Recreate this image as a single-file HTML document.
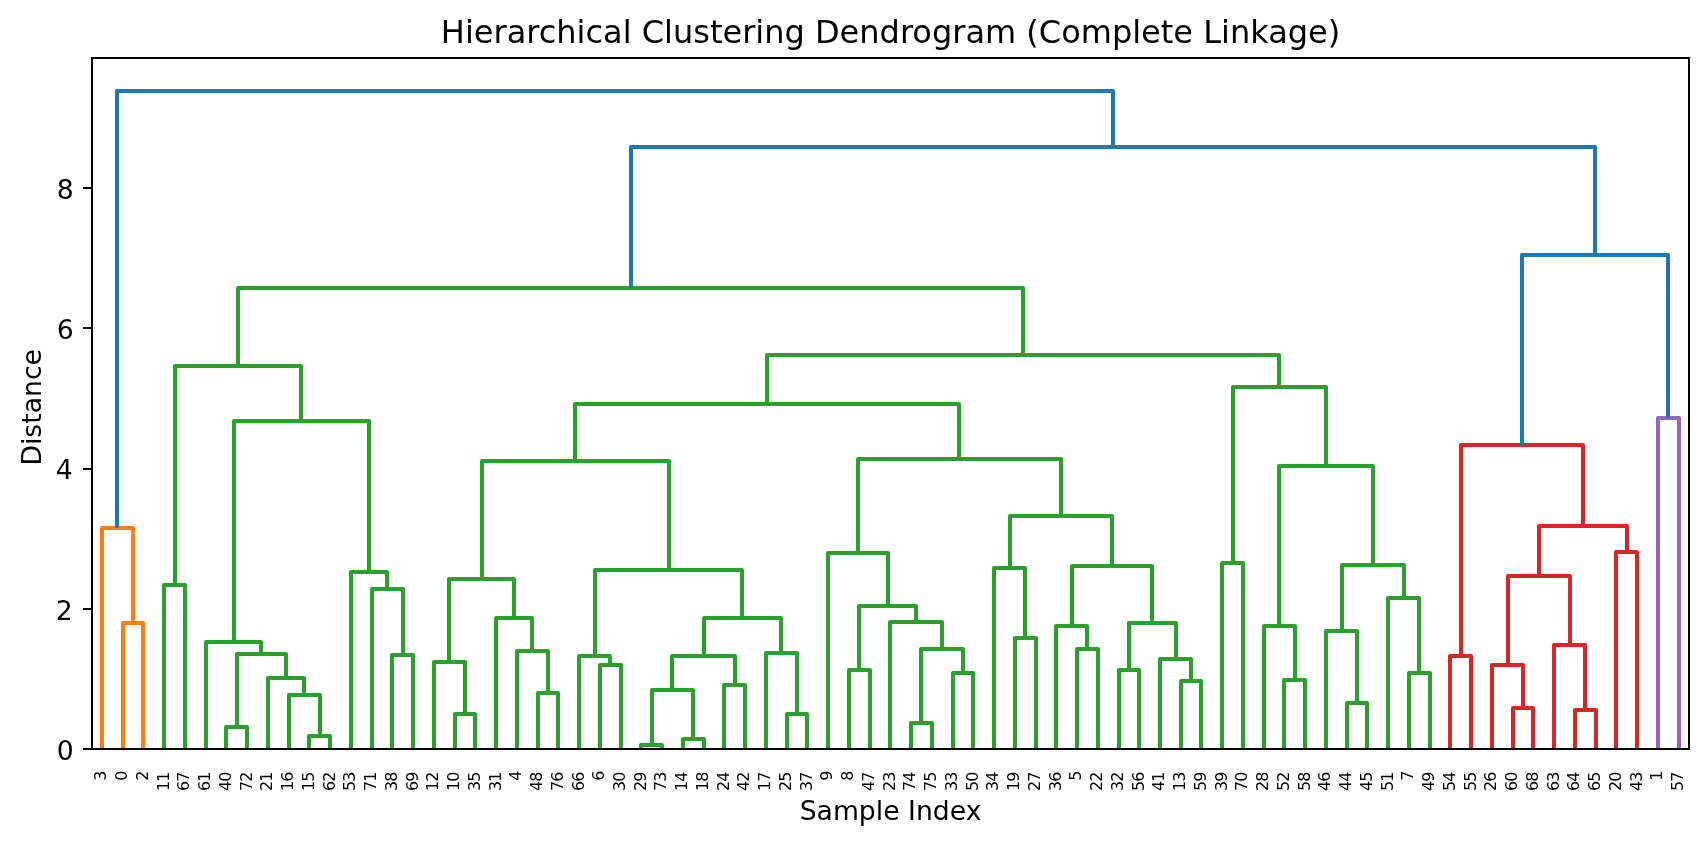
<!DOCTYPE html>
<html><head><meta charset="utf-8"><title>Hierarchical Clustering Dendrogram</title>
<style>
html,body{margin:0;padding:0;background:#fff;}
body{width:1708px;height:844px;overflow:hidden;}
svg{display:block;will-change:transform;}
text{font-family:"DejaVu Sans","Liberation Sans",sans-serif;fill:#000;}
</style></head><body>
<svg width="1708" height="844" viewBox="0 0 1708 844">
<rect x="0" y="0" width="1708" height="844" fill="#fff"/>
<defs><clipPath id="ax"><rect x="92" y="58" width="1597" height="691"/></clipPath></defs>
<g clip-path="url(#ax)" fill="none" stroke-width="4" stroke-linejoin="round" stroke-linecap="butt">
<path stroke="#ff7f0e" d="M123 749V623H143V749 M102 749V528H133V623"/>
<path stroke="#2ca02c" d="M164 749V585H185V749 M226 749V727H247V749 M309 749V736H330V749 M289 749V695H320V736 M268 749V678H304V695 M237 727V654H286V678 M206 749V642H261V654 M392 749V655H413V749 M372 749V589H403V655 M351 749V572H387V589 M234 642V421H369V572 M175 585V366H301V421 M455 749V714H475V749 M434 749V662H465V714 M538 749V693H558V749 M517 749V651H548V693 M496 749V618H532V651 M449 662V579H514V618 M600 749V665H621V749 M579 749V656H610V665 M641 749V745H662V749 M683 749V739H704V749 M652 745V690H693V739 M724 749V685H745V749 M672 690V656H735V685 M787 749V714H807V749 M766 749V653H797V714 M704 656V618H781V653 M595 656V570H742V618 M482 579V461H669V570 M849 749V670H870V749 M911 749V723H932V749 M953 749V673H973V749 M921 723V649H963V673 M890 749V622H942V649 M859 670V606H916V622 M828 749V553H888V606 M1015 749V638H1036V749 M994 749V568H1025V638 M1077 749V649H1098V749 M1056 749V626H1087V649 M1119 749V670H1139V749 M1181 749V681H1201V749 M1160 749V659H1191V681 M1129 670V623H1176V659 M1072 626V566H1152V623 M1010 568V516H1112V566 M858 553V459H1061V516 M575 461V404H959V459 M1222 749V563H1243V749 M1284 749V680H1305V749 M1264 749V626H1295V680 M1347 749V703H1367V749 M1326 749V631H1357V703 M1409 749V673H1430V749 M1388 749V598H1419V673 M1342 631V565H1404V598 M1279 626V466H1373V565 M1233 563V387H1326V466 M767 404V355H1279V387 M238 366V288H1023V355"/>
<path stroke="#d62728" d="M1450 749V656H1471V749 M1513 749V708H1533V749 M1492 749V665H1523V708 M1575 749V710H1596V749 M1554 749V645H1585V710 M1508 665V576H1570V645 M1616 749V552H1637V749 M1539 576V526H1627V552 M1461 656V445H1583V526"/>
<path stroke="#9467bd" d="M1658 749V418H1679V749"/>
<path stroke="#1f77b4" d="M1522 445V255H1668V418 M631 288V147H1595V255 M117 528V91H1113V147"/>
</g>
<rect x="92" y="58" width="1597" height="691" fill="none" stroke="#000" stroke-width="2" stroke-linejoin="miter"/>
<g stroke="#000" stroke-width="2">
<line x1="83" y1="749" x2="92" y2="749"/>
<line x1="83" y1="609" x2="92" y2="609"/>
<line x1="83" y1="469" x2="92" y2="469"/>
<line x1="83" y1="328" x2="92" y2="328"/>
<line x1="83" y1="188" x2="92" y2="188"/>
</g>
<g font-size="26.67px" text-anchor="end">
<text x="73.6" y="759.53">0</text>
<text x="72.7" y="619.53">2</text>
<text x="72.8" y="478.53">4</text>
<text x="73.6" y="338.53">6</text>
<text x="73.6" y="198.53">8</text>
</g>
<g font-size="16px" text-anchor="end" letter-spacing="-0.95px">
<text transform="translate(106.33 771.4) rotate(-90)">3</text>
<text transform="translate(127.08 771.4) rotate(-90)">0</text>
<text transform="translate(147.82 771.4) rotate(-90)">2</text>
<text transform="translate(168.57 772.5) rotate(-90)">11</text>
<text transform="translate(189.32 772.5) rotate(-90)">67</text>
<text transform="translate(210.06 772.5) rotate(-90)">61</text>
<text transform="translate(230.81 772.5) rotate(-90)">40</text>
<text transform="translate(251.55 772.5) rotate(-90)">72</text>
<text transform="translate(272.3 772.5) rotate(-90)">21</text>
<text transform="translate(293.05 772.5) rotate(-90)">16</text>
<text transform="translate(313.79 772.5) rotate(-90)">15</text>
<text transform="translate(334.54 772.5) rotate(-90)">62</text>
<text transform="translate(355.29 772.5) rotate(-90)">53</text>
<text transform="translate(376.03 772.5) rotate(-90)">71</text>
<text transform="translate(396.78 772.5) rotate(-90)">38</text>
<text transform="translate(417.53 772.5) rotate(-90)">69</text>
<text transform="translate(438.27 772.5) rotate(-90)">12</text>
<text transform="translate(459.02 772.5) rotate(-90)">10</text>
<text transform="translate(479.77 772.5) rotate(-90)">35</text>
<text transform="translate(500.51 772.5) rotate(-90)">31</text>
<text transform="translate(521.26 771.4) rotate(-90)">4</text>
<text transform="translate(542.01 772.5) rotate(-90)">48</text>
<text transform="translate(562.75 772.5) rotate(-90)">76</text>
<text transform="translate(583.5 772.5) rotate(-90)">66</text>
<text transform="translate(604.25 771.4) rotate(-90)">6</text>
<text transform="translate(624.99 772.5) rotate(-90)">30</text>
<text transform="translate(645.74 772.5) rotate(-90)">29</text>
<text transform="translate(666.48 772.5) rotate(-90)">73</text>
<text transform="translate(687.23 772.5) rotate(-90)">14</text>
<text transform="translate(707.98 772.5) rotate(-90)">18</text>
<text transform="translate(728.72 772.5) rotate(-90)">24</text>
<text transform="translate(749.47 772.5) rotate(-90)">42</text>
<text transform="translate(770.22 772.5) rotate(-90)">17</text>
<text transform="translate(790.96 772.5) rotate(-90)">25</text>
<text transform="translate(811.71 772.5) rotate(-90)">37</text>
<text transform="translate(832.46 771.4) rotate(-90)">9</text>
<text transform="translate(853.2 771.4) rotate(-90)">8</text>
<text transform="translate(873.95 772.5) rotate(-90)">47</text>
<text transform="translate(894.7 772.5) rotate(-90)">23</text>
<text transform="translate(915.44 772.5) rotate(-90)">74</text>
<text transform="translate(936.19 772.5) rotate(-90)">75</text>
<text transform="translate(956.94 772.5) rotate(-90)">33</text>
<text transform="translate(977.68 772.5) rotate(-90)">50</text>
<text transform="translate(998.43 772.5) rotate(-90)">34</text>
<text transform="translate(1019.18 772.5) rotate(-90)">19</text>
<text transform="translate(1039.92 772.5) rotate(-90)">27</text>
<text transform="translate(1060.67 772.5) rotate(-90)">36</text>
<text transform="translate(1081.41 771.4) rotate(-90)">5</text>
<text transform="translate(1102.16 772.5) rotate(-90)">22</text>
<text transform="translate(1122.91 772.5) rotate(-90)">32</text>
<text transform="translate(1143.65 772.5) rotate(-90)">56</text>
<text transform="translate(1164.4 772.5) rotate(-90)">41</text>
<text transform="translate(1185.15 772.5) rotate(-90)">13</text>
<text transform="translate(1205.89 772.5) rotate(-90)">59</text>
<text transform="translate(1226.64 772.5) rotate(-90)">39</text>
<text transform="translate(1247.39 772.5) rotate(-90)">70</text>
<text transform="translate(1268.13 772.5) rotate(-90)">28</text>
<text transform="translate(1288.88 772.5) rotate(-90)">52</text>
<text transform="translate(1309.63 772.5) rotate(-90)">58</text>
<text transform="translate(1330.37 772.5) rotate(-90)">46</text>
<text transform="translate(1351.12 772.5) rotate(-90)">44</text>
<text transform="translate(1371.87 772.5) rotate(-90)">45</text>
<text transform="translate(1392.61 772.5) rotate(-90)">51</text>
<text transform="translate(1413.36 771.4) rotate(-90)">7</text>
<text transform="translate(1434.11 772.5) rotate(-90)">49</text>
<text transform="translate(1454.85 772.5) rotate(-90)">54</text>
<text transform="translate(1475.6 772.5) rotate(-90)">55</text>
<text transform="translate(1496.34 772.5) rotate(-90)">26</text>
<text transform="translate(1517.09 772.5) rotate(-90)">60</text>
<text transform="translate(1537.84 772.5) rotate(-90)">68</text>
<text transform="translate(1558.58 772.5) rotate(-90)">63</text>
<text transform="translate(1579.33 772.5) rotate(-90)">64</text>
<text transform="translate(1600.08 772.5) rotate(-90)">65</text>
<text transform="translate(1620.82 772.5) rotate(-90)">20</text>
<text transform="translate(1641.57 772.5) rotate(-90)">43</text>
<text transform="translate(1662.32 771.4) rotate(-90)">1</text>
<text transform="translate(1683.06 772.5) rotate(-90)">57</text>
</g>
<text x="890.55" y="820.2" font-size="26.67px" text-anchor="middle">Sample Index</text>
<text transform="translate(41 407.3) rotate(-90)" font-size="26.67px" text-anchor="middle">Distance</text>
<text x="890.55" y="43.4" font-size="32px" text-anchor="middle">Hierarchical Clustering Dendrogram (Complete Linkage)</text>
</svg>
</body></html>
